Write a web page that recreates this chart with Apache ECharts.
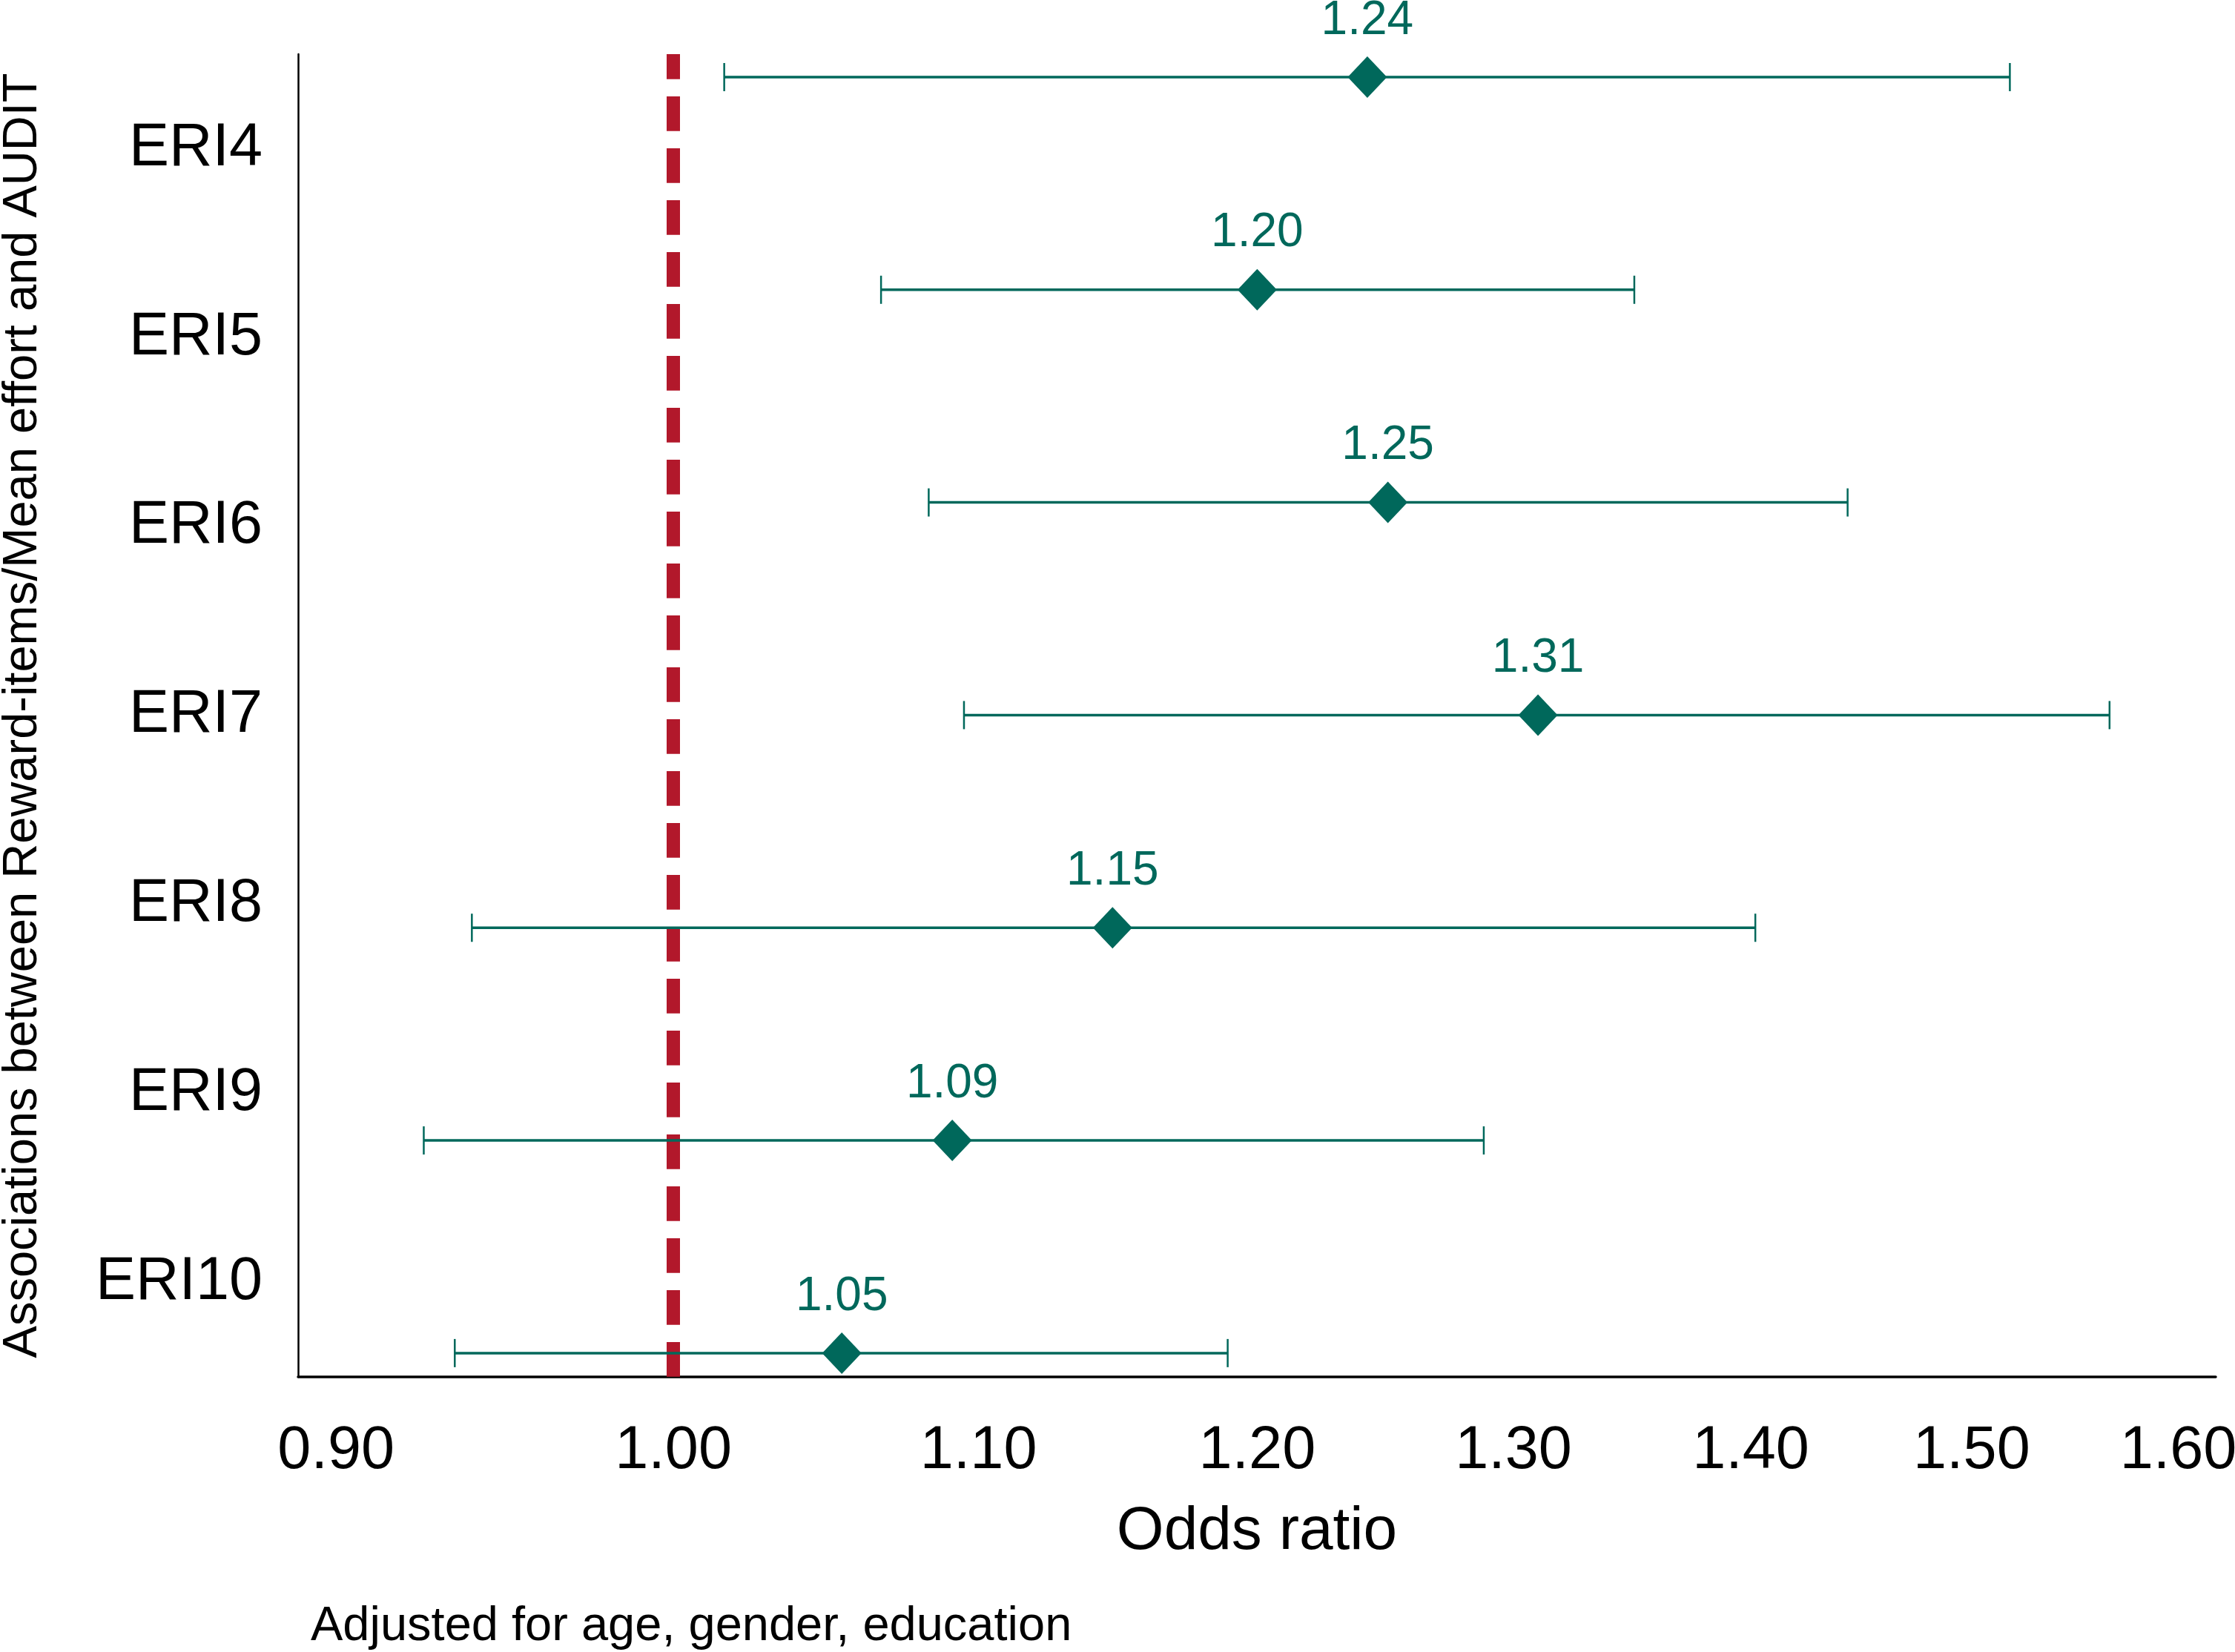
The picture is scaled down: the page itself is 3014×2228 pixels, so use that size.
<!DOCTYPE html>
<html>
<head>
<meta charset="utf-8">
<script src="https://cdn.jsdelivr.net/npm/echarts@6/dist/echarts.min.js"></script>
<style>
  html, body { margin: 0; padding: 0; background: #ffffff; overflow: hidden; }
  #chart { width: 3014px; height: 2228px; }
</style>
</head>
<body>
<div id="chart"></div>
<script>
// ---- data ----
const categories = ['ERI4', 'ERI5', 'ERI6', 'ERI7', 'ERI8', 'ERI9', 'ERI10'];
const oddsRatio  = [1.242, 1.200, 1.250, 1.310, 1.147, 1.091, 1.054];
const ciLower    = [1.016, 1.067, 1.083, 1.095, 0.939, 0.925, 0.934];
const ciUpper    = [1.518, 1.350, 1.443, 1.566, 1.402, 1.288, 1.189];
const xTickValues = [0.90, 1.00, 1.10, 1.20, 1.30, 1.40, 1.50, 1.60];
const xTickLabels = ['0.90', '1.00', '1.10', '1.20', '1.30', '1.40', '1.50', '1.60'];
const referenceOR = 1.00;
const xAxisMinOR = 0.8894;
const xAxisMaxOR = 1.6188;
const rowMin = -0.108;
const rowMax = 6.112;
const xAxisTitle = 'Odds ratio';
const yAxisTitle = 'Associations between Reward-items/Mean effort and AUDIT';
const noteText = 'Adjusted for age, gender, education';

// ---- style ----
const TEAL = '#00685b';
const RED = '#b2182b';
const FONT = 'Liberation Sans';

const logTicks = xTickValues.map(v => Math.log(v));
function tickLabel(v) {
  let best = 0;
  for (let i = 1; i < logTicks.length; i++) {
    if (Math.abs(logTicks[i] - v) < Math.abs(logTicks[best] - v)) best = i;
  }
  return xTickLabels[best];
}

const ciData = categories.map((c, i) => [Math.log(ciLower[i]), Math.log(ciUpper[i]), i]);
const pointData = categories.map((c, i) => [Math.log(oddsRatio[i]), i]);

function renderCI(params, api) {
  const lo = api.coord([api.value(0), api.value(2)]);
  const hi = api.coord([api.value(1), api.value(2)]);
  const capH = 19;
  return {
    type: 'group',
    children: [
      { type: 'line', shape: { x1: lo[0], y1: lo[1], x2: hi[0], y2: hi[1] }, style: { stroke: TEAL, lineWidth: 3.5 } },
      { type: 'line', shape: { x1: lo[0], y1: lo[1] - capH, x2: lo[0], y2: lo[1] + capH }, style: { stroke: TEAL, lineWidth: 2.5 } },
      { type: 'line', shape: { x1: hi[0], y1: hi[1] - capH, x2: hi[0], y2: hi[1] + capH }, style: { stroke: TEAL, lineWidth: 2.5 } }
    ]
  };
}

const chart = echarts.init(document.getElementById('chart'), null, { renderer: 'canvas', width: 3014, height: 2228 });

const option = {
  animation: false,
  backgroundColor: '#ffffff',
  textStyle: { fontFamily: FONT },
  grid: { left: 402, right: 26, top: 73, bottom: 371, containLabel: false, outerBoundsMode: 'none' },
  xAxis: {
    type: 'value',
    min: Math.log(xAxisMinOR),
    max: Math.log(xAxisMaxOR),
    name: xAxisTitle,
    nameLocation: 'middle',
    nameGap: 168,
    nameTextStyle: { fontSize: 82, color: '#000', fontFamily: FONT },
    axisLine: { show: true, onZero: false, lineStyle: { color: '#000', width: 3.5 } },
    axisTick: { show: false, customValues: logTicks },
    splitLine: { show: false },
    axisLabel: {
      customValues: logTicks,
      formatter: v => tickLabel(v),
      fontSize: 81,
      color: '#000',
      margin: 60,
      fontFamily: FONT
    }
  },
  yAxis: [
    {
      type: 'category',
      data: categories,
      inverse: true,
      boundaryGap: true,
      position: 'left',
      name: yAxisTitle,
      nameLocation: 'middle',
      nameGap: 338,
      nameTextStyle: { fontSize: 65, color: '#000', fontFamily: FONT },
      axisLine: { show: true, onZero: false, lineStyle: { color: '#000', width: 2.5 } },
      axisTick: { show: false },
      splitLine: { show: false },
      axisLabel: { fontSize: 81, color: '#000', margin: 48, padding: [24, 0, 0, 0], fontFamily: FONT }
    },
    {
      type: 'value',
      inverse: true,
      min: rowMin,
      max: rowMax,
      show: false,
      axisLine: { onZero: false },
      splitLine: { show: false }
    }
  ],
  series: [
    {
      type: 'custom',
      name: 'CI',
      xAxisIndex: 0,
      yAxisIndex: 1,
      z: 2,
      renderItem: renderCI,
      encode: { x: [0, 1], y: 2 },
      data: ciData,
      silent: true
    },
    {
      type: 'scatter',
      name: 'OR',
      xAxisIndex: 0,
      yAxisIndex: 1,
      z: 3,
      symbol: 'diamond',
      symbolSize: [53, 56],
      itemStyle: { color: TEAL, opacity: 1 },
      label: {
        show: true,
        position: 'top',
        distance: 16,
        formatter: p => oddsRatio[p.dataIndex].toFixed(2),
        fontSize: 64,
        color: TEAL,
        fontFamily: FONT
      },
      data: pointData,
      markLine: {
        silent: true,
        z: 1,
        symbol: ['none', 'none'],
        label: { show: false },
        emphasis: { disabled: true },
        lineStyle: { color: RED, width: 18, type: [46.7, 23.3], dashOffset: 13, cap: 'butt', opacity: 1 },
        data: [{ xAxis: Math.log(referenceOR) }]
      }
    }
  ],
  graphic: [
    {
      type: 'text',
      left: 419,
      top: 2162,
      silent: true,
      style: { text: noteText, font: '65px "Liberation Sans"', fill: '#000' }
    }
  ]
};

chart.setOption(option);
</script>
</body>
</html>
